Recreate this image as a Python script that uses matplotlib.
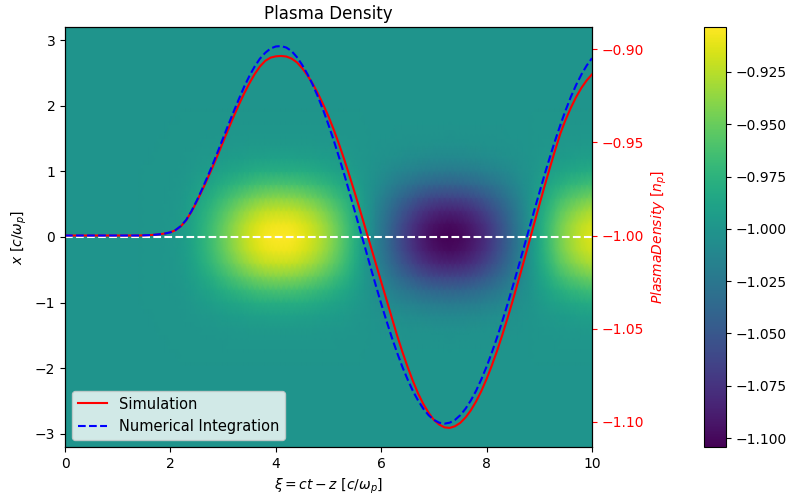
import numpy as np
import matplotlib
matplotlib.use('Agg')
from matplotlib import pyplot as plt
from matplotlib.ticker import MultipleLocator

# on-axis density, xi = 0 .. 10 in steps of 0.1
xi = np.linspace(0, 10, 101)
sim_density = [-1.0] * 15 + [
    -0.9999, -0.9998, -0.9996, -0.9993, -0.9989,
    -0.9983, -0.9971, -0.9950, -0.9918, -0.9872, -0.9818, -0.9759, -0.9697, -0.9633, -0.9566,
    -0.9497, -0.9428, -0.9361, -0.9297, -0.9237, -0.9182, -0.9133, -0.9092, -0.9062, -0.9045,
    -0.9038, -0.9036, -0.9039, -0.9050, -0.9070, -0.9101, -0.9140, -0.9185, -0.9238, -0.9297,
    -0.9361, -0.9432, -0.9510, -0.9593, -0.9681, -0.9772, -0.9866, -0.9962, -1.0057, -1.0153,
    -1.0249, -1.0344, -1.0440, -1.0535, -1.0623, -1.0705, -1.0780, -1.0848, -1.0905, -1.0952,
    -1.0990, -1.1015, -1.1030, -1.1033, -1.1024, -1.1006, -1.0977, -1.0939, -1.0891, -1.0835,
    -1.0770, -1.0697, -1.0618, -1.0532, -1.0441, -1.0345, -1.0246, -1.0145, -1.0042, -0.9939,
    -0.9836, -0.9735, -0.9637, -0.9542, -0.9452, -0.9378, -0.9313, -0.9256, -0.9207, -0.9167,
    -0.9135]
num_density = [-1.0] * 15 + [
    -0.9999, -0.9998, -0.9996, -0.9993, -0.9989,
    -0.9983, -0.9970, -0.9949, -0.9916, -0.9869, -0.9813, -0.9752, -0.9687, -0.9620, -0.9549,
    -0.9477, -0.9405, -0.9335, -0.9267, -0.9201, -0.9143, -0.9092, -0.9050, -0.9019, -0.8996,
    -0.8985, -0.8983, -0.8991, -0.9010, -0.9042, -0.9084, -0.9133, -0.9190, -0.9255, -0.9327,
    -0.9406, -0.9490, -0.9580, -0.9673, -0.9771, -0.9870, -0.9971, -1.0071, -1.0172, -1.0270,
    -1.0366, -1.0458, -1.0546, -1.0628, -1.0704, -1.0772, -1.0834, -1.0886, -1.0930, -1.0965,
    -1.0990, -1.1005, -1.1010, -1.1005, -1.0990, -1.0965, -1.0930, -1.0886, -1.0834, -1.0772,
    -1.0704, -1.0628, -1.0546, -1.0458, -1.0366, -1.0270, -1.0172, -1.0071, -0.9971, -0.9870,
    -0.9771, -0.9673, -0.9580, -0.9490, -0.9406, -0.9327, -0.9255, -0.9191, -0.9135, -0.9087,
    -0.9048]

# transverse fall-off of the density perturbation
x_tr = [-3.2, -2.0, -1.8, -1.6, -1.4, -1.2, -1.0, -0.8, -0.6, -0.4, -0.2, 0.0,
        0.2, 0.4, 0.6, 0.8, 1.0, 1.2, 1.4, 1.6, 1.8, 2.0, 3.2]
profile = [0.0, 0.0, 0.005, 0.015, 0.04, 0.10, 0.22, 0.40, 0.62, 0.82, 0.95, 1.0,
           0.95, 0.82, 0.62, 0.40, 0.22, 0.10, 0.04, 0.015, 0.005, 0.0, 0.0]

# 2d density map
dens_map = -1.0 + np.outer(profile, np.array(sim_density) + 1.0)

fig = plt.figure(figsize=(7.94, 4.96), dpi=100)
ax = fig.add_axes([65/794, 49/496, 527/794, 420/496])
cax = fig.add_axes([704/794, 49/496, 22/794, 420/496])

mesh = ax.pcolormesh(xi, x_tr, dens_map, shading='gouraud', cmap='viridis',
                     vmin=-1.1043, vmax=-0.9035)
ax.axhline(0, color='white', ls='--', lw=1.5)
ax.set_xlim(0, 10)
ax.set_ylim(-3.2, 3.2)
ax.set_xlabel(r'$\xi = ct - z\ [c/\omega_p]$')
ax.set_ylabel(r'$x\ [c/\omega_p]$')
ax.set_title('Plasma Density')

ax2 = ax.twinx()
ax2.plot(xi, sim_density, color='red', lw=1.5, label='Simulation')
ax2.plot(xi, num_density, color='blue', ls='--', lw=1.5, label='Numerical Integration')
ax2.set_ylabel(r'$PlasmaDensity\ [n_p]$', color='red')
ax2.tick_params(axis='y', colors='red')
ax2.yaxis.set_major_locator(MultipleLocator(0.05))
ax2.set_xlim(0, 10)
ax2.legend(loc='lower left', fontsize=10.5)

fig.colorbar(mesh, cax=cax)

fig.savefig('out.png', dpi=100)
